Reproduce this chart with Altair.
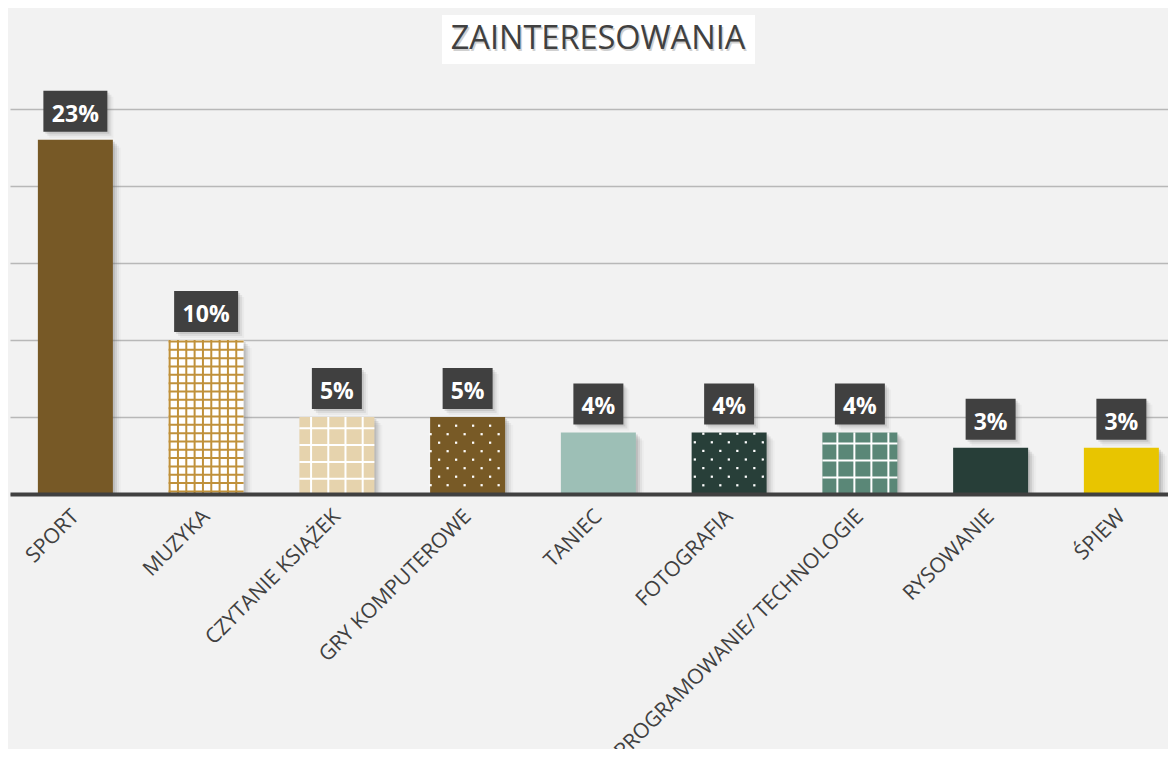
import json
import altair as alt
import pandas as pd

# ---------------- data ----------------
TITLE = "ZAINTERESOWANIA"
categories = ["SPORT", "MUZYKA", "CZYTANIE KSIĄŻEK", "GRY KOMPUTEROWE", "TANIEC",
              "FOTOGRAFIA", "PROGRAMOWANIE/ TECHNOLOGIE", "RYSOWANIE", "ŚPIEW"]
values = [23, 10, 5, 5, 4, 4, 4, 3, 3]
labels = ["23%", "10%", "5%", "5%", "4%", "4%", "4%", "3%", "3%"]

# ---------------- styles ----------------
fills = {
    "SPORT": "#775926", "MUZYKA": "#ffffff", "CZYTANIE KSIĄŻEK": "#e6d3ad",
    "GRY KOMPUTEROWE": "#785a26", "TANIEC": "#9dbfb6", "FOTOGRAFIA": "#283f39",
    "PROGRAMOWANIE/ TECHNOLOGIE": "#5a8777", "RYSOWANIE": "#273e38", "ŚPIEW": "#e8c500",
}
PATTERNS = {
    "MUZYKA": dict(kind="grid", ink="#c0913a", sx=8.33, sy=8.33, ox=1.0, oy=1.5),
    "CZYTANIE KSIĄŻEK": dict(kind="grid", ink="#ffffff", sx=17.2, sy=16.8, ox=11.7, oy=11.3),
    "GRY KOMPUTEROWE": dict(kind="dots", ink="#ffffff", sx=17.0, sy=8.5, ox=9.0, oy=8.7),
    "FOTOGRAFIA": dict(kind="dots", ink="#ffffff", sx=17.0, sy=8.6, ox=11.7, oy=1.3),
    "PROGRAMOWANIE/ TECHNOLOGIE": dict(kind="grid", ink="#ffffff", sx=17.0, sy=17.0, ox=15.0, oy=11.0),
}

W, H = 1158, 385          # plot area (px)
STEP = 130.75             # px per category
XMAX = W / STEP
YMAX = 25
PXY = H / YMAX            # px per percent
BAR_PX = 75
HALF = BAR_PX / 2 / STEP
FONT = "Open Sans"
DARK = "#404040"

# ---------------- tables ----------------
bars = pd.DataFrame({
    "cat": categories,
    "value": values,
    "label": labels,
})
bars["xc"] = [i + 0.5 for i in range(len(categories))]
bars["x0"] = bars["xc"] - HALF
bars["x1"] = bars["xc"] + HALF
bars["zero"] = 0
bars["fill"] = [fills[c] for c in categories]
bars["bw"] = [14 * len(l) + 22 for l in labels]

vlines, hlines, dots = [], [], []
for i, (c, v) in enumerate(zip(categories, values)):
    p = PATTERNS.get(c)
    if not p:
        continue
    left = i + 0.5 - HALF
    hpx = v * PXY
    if p["kind"] == "grid":
        k = p["ox"]
        while k <= BAR_PX - 1:
            vlines.append({"xk": left + k / STEP, "top": v, "bot": 0, "ink": p["ink"]})
            k += p["sx"]
        k = p["oy"]
        while k < hpx - 0.5:
            hlines.append({"xa": left, "xb": left + BAR_PX / STEP, "yk": v - k / PXY, "ink": p["ink"]})
            k += p["sy"]
    else:
        r, yk = 0, p["oy"]
        while yk < hpx - 0.5:
            start = (p["ox"] + (p["sx"] / 2 if r % 2 else 0)) % p["sx"]
            xk = start
            while xk <= BAR_PX - 0.5:
                if xk >= 0.5:
                    dots.append({"xd": left + xk / STEP, "yd": v - yk / PXY, "ink": p["ink"]})
                xk += p["sx"]
            yk += p["sy"]
            r += 1

vlines = pd.DataFrame(vlines)
hlines = pd.DataFrame(hlines)
dots = pd.DataFrame(dots)

# ---------------- scales / axes ----------------
XSCALE = alt.Scale(domain=[0, XMAX], nice=False, zero=False)
YSCALE = alt.Scale(domain=[0, YMAX], nice=False)
names_js = json.dumps(categories, ensure_ascii=False)
XAXIS = alt.Axis(
    values=[i + 0.5 for i in range(len(categories))],
    labelExpr=f"{names_js}[floor(datum.value)]",
    labelAngle=-45, labelAlign="right", labelBaseline="middle",
    labelFont=FONT, labelFontSize=21, labelColor=DARK, labelPadding=19,
    labelLimit=0, labelOverlap=False, labelFlush=False, labelBound=False,
    ticks=False, grid=False, domainColor=DARK, domainWidth=4, title=None, zindex=1,
)
YAXIS = alt.Axis(
    values=[0, 5, 10, 15, 20, 25], labels=False, ticks=False, domain=False,
    grid=True, gridColor="#b8b8b8", gridWidth=1.3, title=None,
)


def xe(f):
    return alt.X(f, type="quantitative", scale=XSCALE, axis=XAXIS)


def ye(f):
    return alt.Y(f, type="quantitative", scale=YSCALE, axis=YAXIS)


base = alt.Chart(bars)

# bar shadows
shadows = [
    base.mark_bar(color="#707070", opacity=op, xOffset=o, x2Offset=o, yOffset=o)
    .encode(x=xe("x0"), x2="x1", y=ye("value"), y2="zero")
    for o, op in [(2, 0.2), (4, 0.15), (6, 0.09), (8, 0.04)]
]

bar_layer = base.mark_bar().encode(
    x=xe("x0"), x2="x1", y=ye("value"), y2="zero",
    fill=alt.Fill("fill:N", scale=None),
)

vl_layer = alt.Chart(vlines).mark_rule(strokeWidth=2).encode(
    x=xe("xk"), y=ye("top"), y2="bot", stroke=alt.Stroke("ink:N", scale=None)
)
hl_layer = alt.Chart(hlines).mark_rule(strokeWidth=2).encode(
    x=xe("xa"), x2="xb", y=ye("yk"), stroke=alt.Stroke("ink:N", scale=None)
)
dot_layer = alt.Chart(dots).mark_square(size=5, opacity=1, strokeWidth=0).encode(
    x=xe("xd"), y=ye("yd"), fill=alt.Fill("ink:N", scale=None)
)

# label boxes
box_shadows = [
    base.mark_tick(orient="horizontal", thickness=41, color="#707070", opacity=op,
                   xOffset=o, yOffset=-28.5 + o)
    .encode(x=xe("xc"), y=ye("value"), size=alt.Size("bw:Q", scale=None))
    for o, op in [(2, 0.18), (4, 0.12), (6, 0.06)]
]
boxes = base.mark_tick(orient="horizontal", thickness=41, color=DARK, opacity=1,
                       yOffset=-28.5).encode(
    x=xe("xc"), y=ye("value"), size=alt.Size("bw:Q", scale=None)
)
texts = base.mark_text(color="white", font=FONT, fontWeight="bold", fontSize=23,
                       dy=-18, baseline="alphabetic", align="center").encode(
    x=xe("xc"), y=ye("value"), text="label:N"
)

# title in a white box
tdata = alt.Data(values=[{"t": TITLE}])
title_box = alt.Chart(tdata).mark_rect(color="white").encode(
    x=alt.value(432), x2=alt.value(745), y=alt.value(-94), y2=alt.value(-45)
)
title_shadow = alt.Chart(tdata).mark_text(
    font=FONT, fontSize=32.5, color="#000000", opacity=0.18, align="center",
    baseline="alphabetic").encode(x=alt.value(589.5), y=alt.value(-58.2), text="t:N")
title_text = alt.Chart(tdata).mark_text(
    font=FONT, fontSize=32.5, color=DARK, align="center", baseline="alphabetic"
).encode(x=alt.value(588), y=alt.value(-59.7), text="t:N")

chart = alt.layer(
    *shadows, bar_layer, vl_layer, hl_layer, dot_layer,
    *box_shadows, boxes, texts, title_box, title_shadow, title_text,
).properties(
    width=W, height=H, autosize="none",
    padding={"left": 2, "top": 101, "right": 0, "bottom": 255},
).configure(background="#f2f2f2").configure_view(stroke=None)

chart.save("out.html", embed_options={"renderer": "svg", "actions": False})
